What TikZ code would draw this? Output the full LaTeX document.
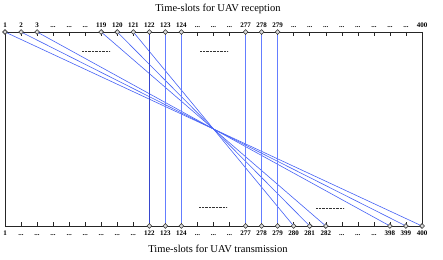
\documentclass[tikz,border=0pt]{standalone}
\usepackage{fontspec}
\setmainfont{Liberation Serif}
\usetikzlibrary{shapes.geometric}
\definecolor{linkblue}{RGB}{70,98,245}
\definecolor{darklink}{RGB}{55,70,205}
\definecolor{paleblue}{RGB}{100,125,255}
\newcommand{\slotdots}{...}
\begin{document}
\begin{tikzpicture}[x=1pt,y=-1pt,
  axisline/.style={line width=0.7pt,black!85},
  tickmark/.style={line width=0.55pt,black!85},
  slotlabel/.style={font=\fontsize{7}{8}\selectfont\bfseries,inner sep=0pt,anchor=base},
  slotmark/.style={diamond,draw=black!80,fill=black!15,line width=0.55pt,minimum size=5pt,inner sep=0pt},
  crosslink/.style={draw=linkblue,line width=0.6pt},
  straightlink/.style={draw=paleblue,line width=1.1pt},
  gapmark/.style={dash pattern=on 0.9pt off 0.5pt,line width=0.7pt,black!80},
  titletext/.style={font=\fontsize{10.5}{12}\selectfont,inner sep=0pt,anchor=base}]
\useasboundingbox (0,0) rectangle (443,259);
% slot positions
\foreach \i in {0,...,26}{
  \coordinate (t\i) at ({5+\i*417/26},32);
  \coordinate (b\i) at ({5+\i*417/26},226);
}
% titles
\node[titletext] (toptitle) at (218,12) {Time-slots for UAV reception};
\node[titletext] (bottitle) at (218,252.5) {Time-slots for UAV transmission};
% axes and frame
\draw[axisline] (t0) -- (t26);
\draw[axisline] (b0) -- (b26);
\draw[axisline] (t0) -- (b0);
\draw[axisline] (t26) -- (b26);
% ticks
\foreach \i in {1,...,25}{
  \draw[tickmark] (t\i) -- ++(0,4);
  \draw[tickmark] (b\i) -- ++(0,-4);
}
% labels
\foreach \i/\t in {0/1,1/2,2/3,3/\slotdots,4/\slotdots,5/\slotdots,6/119,7/120,8/121,9/122,10/123,11/124,12/\slotdots,13/\slotdots,14/\slotdots,15/277,16/278,17/279,18/\slotdots,19/\slotdots,20/\slotdots,21/\slotdots,22/\slotdots,23/\slotdots,24/\slotdots,25/\slotdots,26/400}{
  \node[slotlabel] (tl\i) at ([yshift=4pt]t\i) {\t};
}
\foreach \i/\t in {0/1,1/\slotdots,2/\slotdots,3/\slotdots,4/\slotdots,5/\slotdots,6/\slotdots,7/\slotdots,8/\slotdots,9/122,10/123,11/124,12/\slotdots,13/\slotdots,14/\slotdots,15/277,16/278,17/279,18/280,19/281,20/282,21/\slotdots,22/\slotdots,23/\slotdots,24/398,25/399,26/400}{
  \node[slotlabel] (bl\i) at ([yshift=-9.5pt]b\i) {\t};
}
% markers
\foreach \i in {0,1,2,6,7,8,9,10,11,15,16,17}{
  \node[slotmark] (mt\i) at (t\i) {};
}
\foreach \i in {9,10,11,15,16,17,18,19,20,24,25,26}{
  \node[slotmark] (mb\i) at (b\i) {};
}
% links
\foreach \a/\b in {0/26,1/25,2/24,6/20,7/19,8/18}{
  \draw[crosslink] (mt\a) -- (mb\b);
}
\draw[draw=darklink,line width=0.8pt] (mt9) -- (mb9);
\foreach \a in {10,11,15,16,17}{
  \draw[straightlink] (mt\a) -- (mb\a);
}
% gap marks
\draw[gapmark] (82,51) -- (110,51);
\draw[gapmark] (200,51) -- (228,51);
\draw[gapmark] (199,207) -- (227,207);
\draw[gapmark] (316,208) -- (344,208);
\end{tikzpicture}
\end{document}
